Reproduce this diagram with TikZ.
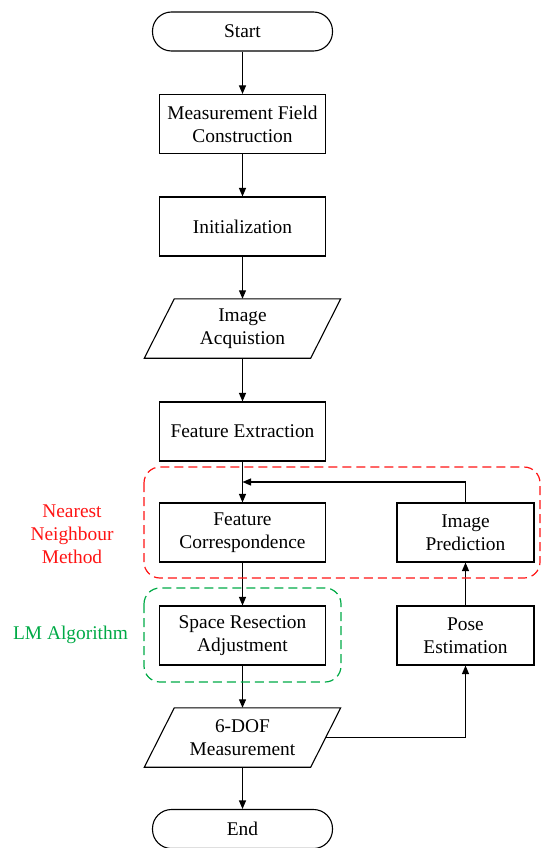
\documentclass[tikz,border=0pt]{standalone}
\usepackage{fontspec}
\setmainfont{Liberation Serif}
\usetikzlibrary{arrows.meta,calc}
\definecolor{redbox}{RGB}{255,20,20}
\definecolor{greenbox}{RGB}{0,170,70}
\begin{document}
\begin{tikzpicture}[x=1pt,y=-1pt,
  txt/.style={font=\fontsize{19.4}{23}\selectfont, align=center, inner sep=0pt},
  term/.style={txt, draw, line width=1.1pt, rounded corners=19pt, minimum width=180pt, minimum height=39pt},
  proc/.style={txt, draw, line width=1.1pt, minimum width=166pt, minimum height=59pt},
  procs/.style={txt, draw, line width=1.1pt, minimum width=137pt, minimum height=59pt},
  io/.style={txt, minimum width=166pt, minimum height=59pt},
  iobox/.style={line width=1.1pt, line join=miter},
  conn/.style={line width=1.1pt, -{Triangle[length=8.5pt,width=7pt]}},
  plain/.style={line width=1.1pt},
  grp/.style={line width=1.2pt, dash pattern=on 9pt off 5pt, rounded corners=16pt},
]
\useasboundingbox (0,0) rectangle (541,848);

\node[term] (start) at (242.5,31.5) {Start};
\node[proc] (mfc) at (242.5,124) {Measurement Field\\Construction};
\node[proc] (init) at (242.5,226.5) {Initialization};
\node[io] (acq) at (242.5,328.5) {Image\\Acquistion};
\node[proc] (fe) at (242.5,431.5) {Feature Extraction};
\node[proc] (fc) at (242.5,532.5) {Feature\\Correspondence};
\node[proc] (sra) at (242.5,635.5) {Space Resection\\Adjustment};
\node[io] (dof) at (242.5,737.5) {6-DOF\\Measurement};
\node[term] (end) at (242.5,829) {End};
\node[procs] (ip) at (465.5,532.5) {Image\\Prediction};
\node[procs] (pe) at (465.5,635.5) {Pose\\Estimation};

\foreach \n in {acq,dof}{
  \draw[iobox] ($(\n.south west)+(-15,0)$) -- ($(\n.south east)+(-15,0)$)
     -- ($(\n.north east)+(15,0)$) -- ($(\n.north west)+(15,0)$) -- cycle;
}

\coordinate (fb) at (242.5,482);
\coordinate (dr) at (465.5,737.5);

\draw[conn] (start) -- (mfc);
\draw[conn] (mfc) -- (init);
\draw[conn] (init) -- (acq);
\draw[conn] (acq) -- (fe);
\draw[conn] (fe) -- (fc);
\draw[conn] (fc) -- (sra);
\draw[conn] (sra) -- (dof);
\draw[conn] (dof) -- (end);
\draw[plain] (dof.east) -- (dr);
\draw[conn] (dr) -- (pe);
\draw[conn] (pe) -- (ip);
\draw[conn] (ip.north) |- (fb);

\draw[grp, draw=redbox] (144,467) rectangle (540,578);
\draw[grp, draw=greenbox] (144,588) rectangle (341,682);

\node[txt, text=redbox] (nn) at (72,534) {Nearest\\Neighbour\\Method};
\node[txt, text=greenbox] (lm) at (70.5,635) {LM Algorithm};
\end{tikzpicture}
\end{document}
